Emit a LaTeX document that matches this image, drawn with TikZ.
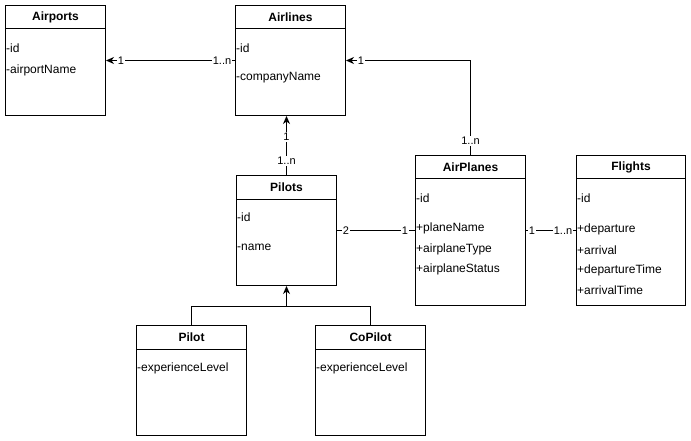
\documentclass[tikz,border=0pt]{standalone}
\usepackage{fontspec}
\setmainfont{Liberation Sans}
\usetikzlibrary{arrows.meta,calc}
\tikzset{
  cls/.style={draw, line width=1pt, anchor=north west, inner sep=0pt, fill=white},
  hdr/.style={font=\fontsize{12}{14}\selectfont\bfseries, inner sep=0pt},
  attr/.style={font=\fontsize{12}{14}\selectfont, anchor=west, inner sep=0pt},
  lbl/.style={font=\fontsize{11}{13}\selectfont, fill=white, inner sep=1pt},
  conn/.style={line width=1pt},
  arr/.style={line width=1pt, -{Stealth[length=8pt,width=7pt,inset=2.5pt]}}
}
\newcommand{\umlbox}[6]{% name, x, y, w, h, title
  \node[cls, minimum width=#4pt, minimum height=#5pt] (#1) at (#2,#3) {};
  \draw[line width=1pt] ($(#1.north west)+(0,24)$) -- ($(#1.north east)+(0,24)$);
  \node[hdr] (#1-t) at ($(#1.north)+(0,12)$) {#6};
}
\begin{document}
\begin{tikzpicture}[x=1pt,y=-1pt]
\useasboundingbox[fill=white] (0,0) rectangle (691,441);
\umlbox{airports}{5}{5}{100}{110}{Airports}
\umlbox{airlines}{235}{5}{110}{110}{Airlines}
\umlbox{pilots}{236}{175}{100}{110}{Pilots}
\umlbox{airplanes}{415}{155}{110}{150}{AirPlanes}
\umlbox{flights}{576}{155}{109}{150}{Flights}
\umlbox{pilot}{136}{325}{110}{110}{Pilot}
\umlbox{copilot}{315}{325}{110}{110}{CoPilot}

\node[attr] (ap1) at (6,48) {-id};
\node[attr] (ap2) at (6,70) {-airportName};
\node[attr] (al1) at (236,48) {-id};
\node[attr] (al2) at (236,78) {-companyName};
\node[attr] (pl1) at (237,217) {-id};
\node[attr] (pl2) at (237,247) {-name};
\node[attr] (apl1) at (416,198) {-id};
\node[attr] (apl2) at (416,228) {+planeName};
\node[attr] (apl3) at (416,249) {+airplaneType};
\node[attr] (apl4) at (416,269) {+airplaneStatus};
\node[attr] (fl1) at (577,198) {-id};
\node[attr] (fl2) at (577,229) {+departure};
\node[attr] (fl3) at (577,250) {+arrival};
\node[attr] (fl4) at (577,270) {+departureTime};
\node[attr] (fl5) at (577,290) {+arrivalTime};
\node[attr] (pi1) at (137,368) {-experienceLevel};
\node[attr] (cp1) at (316,368) {-experienceLevel};

% Airlines -> Airports
\draw[arr] (airlines.west) -- (airports.east);
\node[lbl] at ([xshift=-13pt]airlines.west) {1..n};
\node[lbl] at ([xshift=15pt]airports.east) {1};

% Pilots -> Airlines
\draw[arr] (pilots.north) -- (pilots.north |- airlines.south);
\node[lbl] at ([yshift=14pt]pilots.north) {1..n};
\node[lbl] at ($(pilots.north |- airlines.south)+(0,21)$) {1};

% AirPlanes -> Airlines
\draw[arr] (airplanes.north) |- (airlines.east);
\node[lbl] at ([yshift=14pt]airplanes.north) {1..n};
\node[lbl] at ([xshift=15pt]airlines.east) {1};

% Pilots -- AirPlanes
\draw[conn] (pilots.east) -- (airplanes.west);
\node[lbl] at ([xshift=9pt]pilots.east) {2};
\node[lbl] at ([xshift=-10pt]airplanes.west) {1};

% AirPlanes -- Flights
\draw[conn] (airplanes.east) -- (flights.west);
\node[lbl] at ([xshift=6pt]airplanes.east) {1};
\node[lbl] at ([xshift=-13pt]flights.west) {1..n};

% Inheritance
\coordinate (j) at ($(pilots.south)+(0,20)$);
\draw[conn] (pilot.north) |- (j);
\draw[conn] (copilot.north) |- (j);
\draw[arr] (j) -- (pilots.south);
\end{tikzpicture}
\end{document}
